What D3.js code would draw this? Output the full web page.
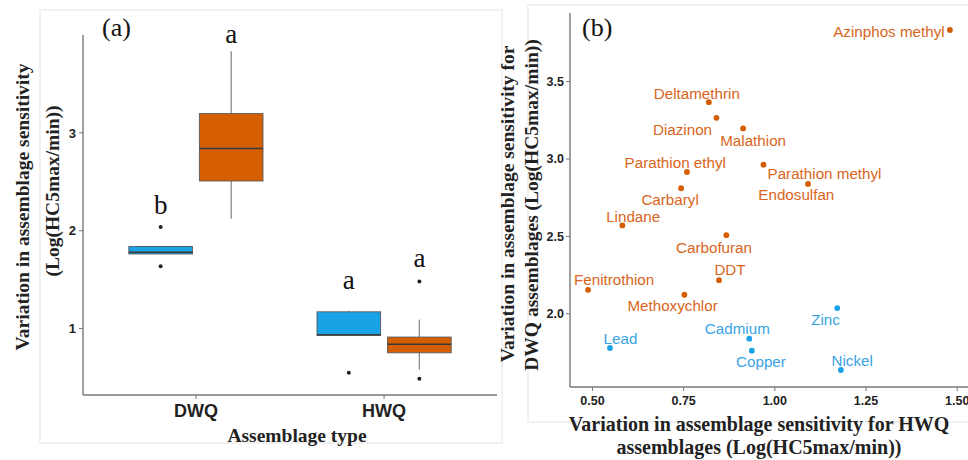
<!DOCTYPE html>
<html>
<head>
<meta charset="utf-8">
<script src="https://cdn.jsdelivr.net/npm/d3@7"></script>
<style>
  html, body { margin: 0; padding: 0; background: #fff; }
  svg { display: block; }
</style>
</head>
<body>
<svg id="chart" width="968" height="460"></svg>
<script>
// ---------------- DATA ----------------
const chemicals = ["Azinphos methyl","Deltamethrin","Diazinon","Malathion","Parathion methyl",
  "Endosulfan","Parathion ethyl","Carbaryl","Lindane","Carbofuran","DDT","Fenitrothion",
  "Methoxychlor","Zinc","Cadmium","Copper","Lead","Nickel"];
const chemClass = ["Pesticide","Pesticide","Pesticide","Pesticide","Pesticide","Pesticide",
  "Pesticide","Pesticide","Pesticide","Pesticide","Pesticide","Pesticide","Pesticide",
  "Metal","Metal","Metal","Metal","Metal"];
// Variation in sensitivity, Log(HC5max/min)
const hwqValues = [1.480, 0.819, 0.840, 0.913, 0.969, 1.091, 0.759, 0.743, 0.582, 0.867, 0.847, 0.488, 0.752,
                   1.171, 0.930, 0.937, 0.548, 1.181];
const dwqValues = [3.833, 3.367, 3.266, 3.197, 2.963, 2.839, 2.916, 2.811, 2.571, 2.508, 2.217, 2.155, 2.123,
                   2.037, 1.839, 1.762, 1.779, 1.637];
const assemblageTypes = ["DWQ", "HWQ"];
const classOrder = ["Metal", "Pesticide"];
const groupLetters = [["b", "a"], ["a", "a"]];          // [type][class]
const letterValues = [[2.17, 3.92], [1.40, 1.63]];      // value level of each letter
const yTicksA = [1, 2, 3];
const xTicksB = [0.50, 0.75, 1.00, 1.25, 1.50];
const yTicksB = [2.0, 2.5, 3.0, 3.5];

// ---------------- STYLE / LAYOUT ----------------
const COLORS = { Metal: "#1aa2e6", Pesticide: "#d55e00" };
const TEXTCOL = { Metal: "#3aa4e4", Pesticide: "#d9651c" };
const serif = "'Liberation Serif','Times New Roman',serif";
const sans = "'Liberation Sans',Arial,sans-serif";
// label offsets (px) for repelled labels, layout only
const labelNudge = {
  "Azinphos methyl": [-61, 1.5], "Deltamethrin": [-12, -9], "Diazinon": [-34, 11.5],
  "Malathion": [10, 12.3], "Parathion methyl": [61, 9.3], "Endosulfan": [-11.7, 11],
  "Parathion ethyl": [-11.7, -9.3], "Carbaryl": [-11, 11.3], "Lindane": [10.8, -9],
  "Carbofuran": [-12.3, 12], "DDT": [11, -10.7], "Fenitrothion": [26, -10.4],
  "Methoxychlor": [-11.8, 11], "Zinc": [-11.7, 11], "Cadmium": [-12, -9.7],
  "Copper": [9.1, 11.3], "Lead": [10.5, -9.3], "Nickel": [11.3, -9.6]
};

const svg = d3.select("#chart");

// faint panel frames
svg.append("rect").attr("x", 40).attr("y", 10).attr("width", 462).attr("height", 433)
  .attr("fill", "none").attr("stroke", "#f1f1f1").attr("stroke-width", 2);
svg.append("rect").attr("x", 528).attr("y", 5).attr("width", 450).attr("height", 417)
  .attr("fill", "none").attr("stroke", "#f1f1f1").attr("stroke-width", 2);

function expand(ext, f) { const d = ext[1] - ext[0]; return [ext[0] - d * f, ext[1] + d * f]; }

// ================= PANEL (a) =================
(function panelA() {
  const L = 83, R = 497, T = 35, B = 395;
  const allVals = hwqValues.concat(dwqValues);
  const y = d3.scaleLinear().domain(expand(d3.extent(allVals), 0.05)).range([B, T]);
  const x = d3.scaleLinear().domain([0.4, 2.6]).range([L, R]);
  const g = svg.append("g");

  const dodge = 0.1875, halfW = 0.169;
  assemblageTypes.forEach((type, ti) => {
    const vals = type === "DWQ" ? dwqValues : hwqValues;
    classOrder.forEach((cls, ci) => {
      const v = vals.filter((_, i) => chemClass[i] === cls).sort(d3.ascending);
      const q1 = d3.quantile(v, 0.25), med = d3.quantile(v, 0.5), q3 = d3.quantile(v, 0.75);
      const iqr = q3 - q1;
      const lo = d3.min(v.filter(d => d >= q1 - 1.5 * iqr));
      const hi = d3.max(v.filter(d => d <= q3 + 1.5 * iqr));
      const outl = v.filter(d => d < q1 - 1.5 * iqr || d > q3 + 1.5 * iqr);
      const cx = (ti + 1) + (ci === 0 ? -dodge : dodge);
      const x0 = x(cx - halfW), x1 = x(cx + halfW), xc = x(cx);
      // whiskers
      g.append("line").attr("x1", xc).attr("x2", xc).attr("y1", y(hi)).attr("y2", y(q3))
        .attr("stroke", "#8a8a8a").attr("stroke-width", 1.3);
      g.append("line").attr("x1", xc).attr("x2", xc).attr("y1", y(q1)).attr("y2", y(lo))
        .attr("stroke", "#8a8a8a").attr("stroke-width", 1.3);
      // box
      g.append("rect").attr("x", x0).attr("y", y(q3)).attr("width", x1 - x0)
        .attr("height", y(q1) - y(q3)).attr("fill", COLORS[cls])
        .attr("stroke", "#5a5a5a").attr("stroke-width", 0.9);
      g.append("line").attr("x1", x0).attr("x2", x1).attr("y1", y(med)).attr("y2", y(med))
        .attr("stroke", "#3a3a3a").attr("stroke-width", 1.5);
      // outliers
      g.selectAll(null).data(outl).enter().append("circle")
        .attr("cx", xc).attr("cy", d => y(d)).attr("r", 2).attr("fill", "#222");
      // letter
      g.append("text").attr("x", xc).attr("y", y(letterValues[ti][ci]))
        .attr("text-anchor", "middle").attr("font-family", serif).attr("font-size", 27)
        .attr("fill", "#111").text(groupLetters[ti][ci]);
    });
  });

  // axes
  g.append("line").attr("x1", L).attr("x2", L).attr("y1", T).attr("y2", B)
    .attr("stroke", "#777").attr("stroke-width", 1.4);
  g.append("line").attr("x1", L).attr("x2", R).attr("y1", B).attr("y2", B)
    .attr("stroke", "#777").attr("stroke-width", 1.4);
  yTicksA.forEach(t => {
    g.append("line").attr("x1", L - 4).attr("x2", L).attr("y1", y(t)).attr("y2", y(t))
      .attr("stroke", "#777").attr("stroke-width", 1);
    g.append("text").attr("x", L - 7).attr("y", y(t)).attr("dy", "0.36em")
      .attr("text-anchor", "end").attr("font-family", sans).attr("font-weight", "bold")
      .attr("font-size", 13).attr("fill", "#222").text(t);
  });
  assemblageTypes.forEach((t, i) => {
    g.append("line").attr("x1", x(i + 1)).attr("x2", x(i + 1)).attr("y1", B).attr("y2", B + 4)
      .attr("stroke", "#777").attr("stroke-width", 1);
    g.append("text").attr("x", x(i + 1)).attr("y", 417).attr("text-anchor", "middle")
      .attr("font-family", sans).attr("font-weight", "bold").attr("font-size", 18)
      .attr("fill", "#222").text(t);
  });
  g.append("text").attr("x", 297).attr("y", 442).attr("text-anchor", "middle")
    .attr("font-family", serif).attr("font-weight", "bold").attr("font-size", 19.5)
    .attr("fill", "#222").text("Assemblage type");
  g.append("text").attr("transform", "translate(29,207) rotate(-90)").attr("text-anchor", "middle")
    .attr("font-family", serif).attr("font-weight", "bold").attr("font-size", 19.5)
    .attr("fill", "#222").text("Variation in assemblage sensitivity");
  g.append("text").attr("transform", "translate(59,191) rotate(-90)").attr("text-anchor", "middle")
    .attr("font-family", serif).attr("font-weight", "bold").attr("font-size", 19.5)
    .attr("fill", "#222").text("(Log(HC5max/min))");
  g.append("text").attr("x", 102).attr("y", 36).attr("font-family", serif)
    .attr("font-size", 26).attr("fill", "#111").text("(a)");
})();

// ================= PANEL (b) =================
(function panelB() {
  const L = 570, R = 968, T = 13, B = 387;
  const x = d3.scaleLinear().domain(expand(d3.extent(hwqValues), 0.05)).range([L, R]);
  const y = d3.scaleLinear().domain(expand(d3.extent(dwqValues), 0.05)).range([B, T]);
  const g = svg.append("g");
  const pts = chemicals.map((name, i) => ({ name, cls: chemClass[i], hx: hwqValues[i], dy: dwqValues[i] }));

  g.selectAll("circle.pt").data(pts).enter().append("circle").attr("class", "pt")
    .attr("cx", d => x(d.hx)).attr("cy", d => y(d.dy)).attr("r", 2.9)
    .attr("fill", d => COLORS[d.cls]);
  g.selectAll("text.lab").data(pts).enter().append("text").attr("class", "lab")
    .attr("x", d => x(d.hx) + labelNudge[d.name][0])
    .attr("y", d => y(d.dy) + labelNudge[d.name][1])
    .attr("dy", "0.36em").attr("text-anchor", "middle")
    .attr("font-family", sans).attr("font-size", 15.2)
    .attr("fill", d => TEXTCOL[d.cls]).text(d => d.name);

  g.append("line").attr("x1", L).attr("x2", L).attr("y1", T).attr("y2", B)
    .attr("stroke", "#777").attr("stroke-width", 1.4);
  g.append("line").attr("x1", L).attr("x2", R).attr("y1", B).attr("y2", B)
    .attr("stroke", "#777").attr("stroke-width", 1.4);
  yTicksB.forEach(t => {
    g.append("line").attr("x1", L - 4).attr("x2", L).attr("y1", y(t)).attr("y2", y(t))
      .attr("stroke", "#777").attr("stroke-width", 1);
    g.append("text").attr("x", L - 6).attr("y", y(t)).attr("dy", "0.36em")
      .attr("text-anchor", "end").attr("font-family", sans).attr("font-weight", "bold")
      .attr("font-size", 12.5).attr("fill", "#222").text(d3.format(".1f")(t));
  });
  xTicksB.forEach(t => {
    g.append("line").attr("x1", x(t)).attr("x2", x(t)).attr("y1", B).attr("y2", B + 4)
      .attr("stroke", "#777").attr("stroke-width", 1);
    g.append("text").attr("x", x(t)).attr("y", 405).attr("text-anchor", "middle")
      .attr("font-family", sans).attr("font-weight", "bold").attr("font-size", 12.5)
      .attr("fill", "#222").text(d3.format(".2f")(t));
  });
  g.append("text").attr("x", 759).attr("y", 431).attr("text-anchor", "middle")
    .attr("font-family", serif).attr("font-weight", "bold").attr("font-size", 20)
    .attr("fill", "#222").text("Variation in assemblage sensitivity for HWQ");
  g.append("text").attr("x", 759).attr("y", 454).attr("text-anchor", "middle")
    .attr("font-family", serif).attr("font-weight", "bold").attr("font-size", 20)
    .attr("fill", "#222").text("assemblages (Log(HC5max/min))");
  g.append("text").attr("transform", "translate(514,204) rotate(-90)").attr("text-anchor", "middle")
    .attr("font-family", serif).attr("font-weight", "bold").attr("font-size", 19.5)
    .attr("fill", "#222").text("Variation in assemblage sensitivity for");
  g.append("text").attr("transform", "translate(538,205) rotate(-90)").attr("text-anchor", "middle")
    .attr("font-family", serif).attr("font-weight", "bold").attr("font-size", 19.5)
    .attr("fill", "#222").text("DWQ assemblages (Log(HC5max/min))");
  g.append("text").attr("x", 582).attr("y", 36).attr("font-family", serif)
    .attr("font-size", 26).attr("fill", "#111").text("(b)");
})();
</script>
</body>
</html>
